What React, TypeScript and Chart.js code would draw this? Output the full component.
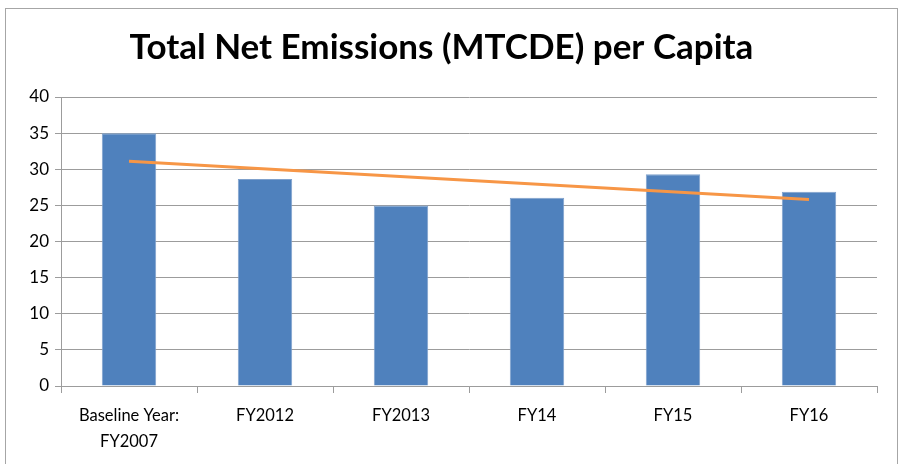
import React, { useEffect, useRef } from "react";
import { Chart, registerables } from "chart.js";

Chart.register(...registerables);

const categories: (string | string[])[] = [
  ["Baseline Year:", "FY2007"],
  "FY2012",
  "FY2013",
  "FY14",
  "FY15",
  "FY16",
];
const emissionsPerCapita: number[] = [35.0, 28.65, 25.0, 26.05, 29.3, 26.9];
// Linear trendline: only its two end points
const trendEnds: (number | null)[] = [31.1, null, null, null, null, 25.8];
const yTicksMin = 0;
const yTicksMax = 40;
const yTickStep = 5;

const titleText = "Total Net Emissions (MTCDE) per Capita";

export default function App() {
  const ref = useRef<HTMLCanvasElement | null>(null);

  useEffect(() => {
    if (!ref.current) return;
    const gridColor = "#9c9c9c";
    const chart = new Chart(ref.current, {
      type: "bar",
      data: {
        labels: categories,
        datasets: [
          {
            type: "line",
            label: "Trend",
            data: trendEnds,
            spanGaps: true,
            borderColor: "#F79646",
            borderWidth: 3,
            pointRadius: 0,
            tension: 0,
            order: 0,
          } as any,
          {
            type: "bar",
            label: "Total Net Emissions per Capita",
            data: emissionsPerCapita,
            backgroundColor: "#4F81BD",
            borderColor: "#7FA1CC",
            borderWidth: 1,
            categoryPercentage: 1,
            barPercentage: 0.4,
            order: 1,
          },
        ],
      },
      options: {
        responsive: false,
        animation: false,
        devicePixelRatio: 1,
        layout: { padding: { left: 0, right: 20, top: 0, bottom: 0 } },
        plugins: {
          legend: { display: false },
          tooltip: { enabled: false },
          title: {
            display: true,
            text: titleText,
            color: "#000",
            font: { family: "Lato", size: 35, weight: "bold", lineHeight: 1.2 },
            padding: { top: 18, bottom: 28 },
          },
        },
        scales: {
          x: {
            offset: true,
            grid: {
              display: true,
              drawOnChartArea: false,
              drawTicks: true,
              tickLength: 7,
              color: gridColor,
              offset: true,
            },
            border: { display: true, color: gridColor, width: 1 },
            ticks: {
              color: "#000",
              font: { family: "Lato", size: 16.5, lineHeight: 1.55 },
              padding: 10,
              maxRotation: 0,
              autoSkip: false,
            },
            afterFit: (scale: any) => {
              scale.height = 78;
            },
          },
          y: {
            min: yTicksMin,
            max: yTicksMax,
            ticks: {
              stepSize: yTickStep,
              color: "#000",
              font: { family: "Lato", size: 17 },
              padding: 6,
            },
            grid: {
              color: gridColor,
              lineWidth: 1,
              tickLength: 6,
              drawTicks: true,
            },
            border: { display: true, color: gridColor, width: 1 },
            afterFit: (scale: any) => {
              scale.width = 55;
            },
          },
        },
      },
    });
    return () => chart.destroy();
  }, []);

  return (
    <div
      style={{
        position: "absolute",
        left: 5,
        top: 8,
        width: 893,
        height: 462,
        border: "1px solid #a6a6a6",
        boxSizing: "border-box",
        background: "#fff",
      }}
    >
      <canvas ref={ref} width={891} height={455} style={{ display: "block" }} />
    </div>
  );
}
